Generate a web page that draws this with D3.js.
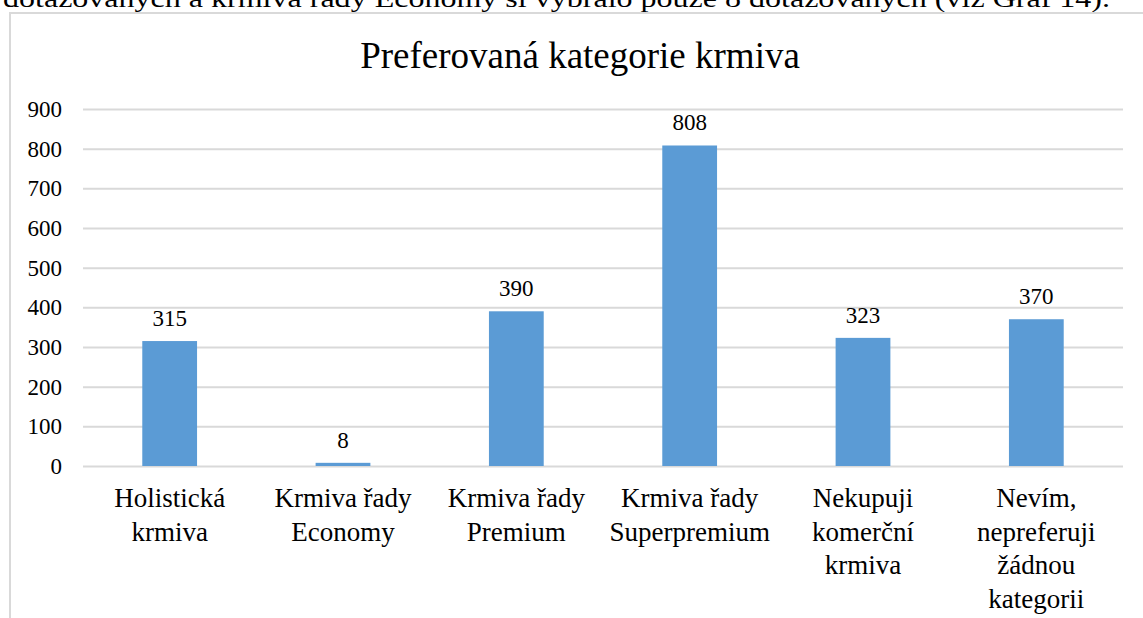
<!DOCTYPE html>
<html>
<head>
<meta charset="utf-8">
<script src="https://cdn.jsdelivr.net/npm/d3@7"></script>
</head>
<body style="margin:0; background:#fff">
<svg width="1143" height="618" font-family="Liberation Serif"></svg>
<script>
// data
var categories = ["Holistická krmiva", "Krmiva řady Economy", "Krmiva řady Premium",
    "Krmiva řady Superpremium", "Nekupuji komerční krmiva", "Nevím, nepreferuji žádnou kategorii"];
var categoryLines = [
    ["Holistická", "krmiva"],
    ["Krmiva řady", "Economy"],
    ["Krmiva řady", "Premium"],
    ["Krmiva řady", "Superpremium"],
    ["Nekupuji", "komerční", "krmiva"],
    ["Nevím,", "nepreferuji", "žádnou", "kategorii"]
];
var values = [315, 8, 390, 808, 323, 370];
var yTicks = [0, 100, 200, 300, 400, 500, 600, 700, 800, 900];
var title = "Preferovaná kategorie krmiva";
var textAbove = "dotazovaných a krmiva řady Economy si vybralo pouze 8 dotazovaných (viz Graf 14).";

var FONT = "'Liberation Serif'";

function main() {
    var svg = d3.select("svg");

    // cut-off line of body text above the chart
    svg.append("text")
        .attr("x", 3)
        .attr("y", 7)
        .attr("textLength", 1107)
        .attr("lengthAdjust", "spacingAndGlyphs")
        .style("font-family", FONT)
        .style("font-size", "26px")
        .style("fill", "#000")
        .text(textAbove);

    // chart frame (runs off the right and bottom edge)
    svg.append("rect")
        .attr("x", 10)
        .attr("y", 13)
        .attr("width", 1150)
        .attr("height", 620)
        .attr("fill", "none")
        .attr("stroke", "#d9d9d9")
        .attr("stroke-width", 2);

    svg.append("text")
        .attr("x", 580)
        .attr("y", 68)
        .attr("text-anchor", "middle")
        .style("font-family", FONT)
        .style("font-size", "37px")
        .text(title);

    var left = 83, right = 1123, top = 109, bottom = 466;

    var x = d3.scaleBand()
        .domain(categories)
        .range([left, right])
        .paddingInner(0.684)
        .paddingOuter(0.342);

    var y = d3.scaleLinear()
        .domain([0, 900])
        .range([bottom, top]);

    // gridlines + tick labels
    var yAxis = svg.append("g")
        .attr("transform", "translate(" + left + ",0)")
        .call(d3.axisLeft(y).tickValues(yTicks).tickSize(-(right - left)).tickPadding(21));
    yAxis.attr("font-family", "Liberation Serif");
    yAxis.select(".domain").remove();
    yAxis.selectAll(".tick line")
        .attr("stroke", "#d9d9d9")
        .attr("stroke-width", 2);
    yAxis.selectAll(".tick text")
        .attr("fill", "#000")
        .style("font-family", FONT)
        .style("font-size", "23px");

    // bars
    svg.selectAll(".bar")
        .data(values)
        .enter().append("rect")
        .attr("class", "bar")
        .attr("x", function (d, i) { return x(categories[i]); })
        .attr("y", function (d) { return y(d); })
        .attr("width", x.bandwidth())
        .attr("height", function (d) { return bottom - y(d); })
        .attr("fill", "#5b9bd5");

    // value labels
    svg.selectAll(".val")
        .data(values)
        .enter().append("text")
        .attr("class", "val")
        .attr("x", function (d, i) { return x(categories[i]) + x.bandwidth() / 2; })
        .attr("y", function (d) { return y(d) - 15; })
        .attr("text-anchor", "middle")
        .style("font-family", FONT)
        .style("font-size", "23px")
        .text(function (d) { return d; });

    // category labels, wrapped like in the original
    var cat = svg.selectAll(".cat")
        .data(categoryLines)
        .enter().append("text")
        .attr("class", "cat")
        .attr("text-anchor", "middle")
        .style("font-family", FONT)
        .style("font-size", "27px");

    cat.each(function (lines, i) {
        var cx = x(categories[i]) + x.bandwidth() / 2;
        d3.select(this).selectAll("tspan")
            .data(lines)
            .enter().append("tspan")
            .attr("x", cx)
            .attr("y", function (d, j) { return 507 + j * 33.6; })
            .text(function (d) { return d; });
    });
}
main();
</script>
</body>
</html>
